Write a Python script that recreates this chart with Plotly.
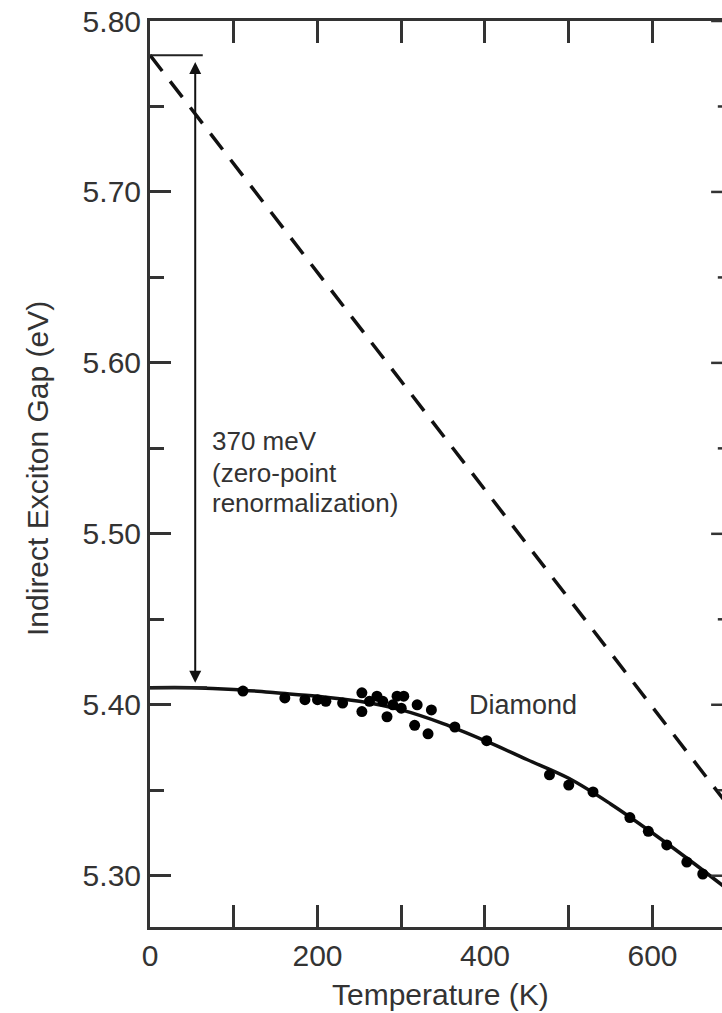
import plotly.graph_objects as go

# ---------------- data ----------------
# measured indirect exciton gap of diamond (K, eV)
meas_T = [111, 161, 185, 200, 210, 230, 253, 253, 262, 271, 278, 283, 290, 295, 300,
          303, 316, 319, 332, 336, 364, 402, 477, 500, 529, 573, 595, 617, 641, 660]
meas_E = [5.408, 5.404, 5.403, 5.403, 5.402, 5.401, 5.407, 5.396, 5.402, 5.405, 5.402,
          5.393, 5.400, 5.405, 5.398, 5.405, 5.388, 5.400, 5.383, 5.397, 5.387, 5.379,
          5.359, 5.353, 5.349, 5.334, 5.326, 5.318, 5.308, 5.301]

# fitted curve
fit_T = [0, 50, 100, 150, 200, 250, 300, 350, 400, 450, 500, 550, 600, 650, 700]
fit_E = [5.410, 5.410, 5.409, 5.407, 5.405, 5.402, 5.397, 5.389, 5.379, 5.368,
         5.357, 5.342, 5.325, 5.307, 5.288]

# high-temperature asymptote (dashed)
asym_T = [0, 700]
asym_E = [5.780, 5.335]

# zero-point renormalization marker
zpr_T = 54
zpr_top = 5.78
zpr_bottom = 5.41

x_tickvals = [0, 200, 400, 600]
y_tickvals = [5.30, 5.40, 5.50, 5.60, 5.70, 5.80]
y_ticktext = ["5.30", "5.40", "5.50", "5.60", "5.70", "5.80"]

FONT = "Liberation Sans, Arial, sans-serif"
INK = "#333333"

fig = go.Figure()

fig.add_trace(go.Scatter(x=asym_T, y=asym_E, mode="lines",
                         line=dict(color="#111111", width=3.5, dash="20px,13px"),
                         showlegend=False, hoverinfo="skip"))
fig.add_trace(go.Scatter(x=fit_T, y=fit_E, mode="lines", line_shape="spline",
                         line=dict(color="#111111", width=3.5),
                         showlegend=False, hoverinfo="skip"))
fig.add_trace(go.Scatter(x=meas_T, y=meas_E, mode="markers",
                         marker=dict(color="#000000", size=11),
                         showlegend=False, hoverinfo="skip"))

# ZPR guide lines
fig.add_shape(type="line", x0=0, x1=63, y0=zpr_top, y1=zpr_top,
              line=dict(color="#222222", width=2))
fig.add_shape(type="line", x0=0, x1=68, y0=zpr_bottom, y1=zpr_bottom,
              line=dict(color="#222222", width=3))
# double-headed arrow
fig.add_annotation(x=zpr_T, y=zpr_top - 0.004, ax=zpr_T, ay=zpr_bottom + 0.002,
                   xref="x", yref="y", axref="x", ayref="y", text="",
                   showarrow=True, arrowhead=2, arrowside="end+start",
                   arrowsize=1.2, arrowwidth=2, arrowcolor="#111111")

# right-axis ticks (the right frame itself lies beyond the crop)
for i in range(11):
    v = 5.30 + 0.05 * i
    major = (i % 2 == 0)
    fig.add_shape(type="line", x0=670 if major else 678, x1=700, y0=v, y1=v,
                  line=dict(color=INK, width=2.5))

# text annotations
note_lines = ["370 meV", "(zero-point", "renormalization)"]
note_y = [5.5544, 5.5357, 5.5181]
for t, yy in zip(note_lines, note_y):
    fig.add_annotation(x=72, y=yy, xref="x", yref="y", text=t, showarrow=False,
                       xanchor="left", yanchor="middle",
                       font=dict(family=FONT, size=26, color=INK))
fig.add_annotation(x=378, y=5.400, xref="x", yref="y", text="Diamond",
                   showarrow=False, xanchor="left", yanchor="middle",
                   font=dict(family=FONT, size=27, color=INK))

# axis titles
fig.add_annotation(x=0.507, y=-0.075, xref="paper", yref="paper",
                   text="Temperature (K)", showarrow=False,
                   xanchor="center", yanchor="middle",
                   font=dict(family=FONT, size=30, color=INK))
fig.add_annotation(x=-0.1976, y=0.5066, xref="paper", yref="paper",
                   text="Indirect Exciton Gap (eV)", showarrow=False, textangle=-90,
                   xanchor="center", yanchor="middle",
                   font=dict(family=FONT, size=30, color=INK))

fig.update_layout(
    width=722, height=1013,
    margin=dict(l=150, r=0, t=21, b=86),
    paper_bgcolor="white", plot_bgcolor="white",
    font=dict(family=FONT, size=30, color=INK),
    xaxis=dict(range=[0, 683], showgrid=False, zeroline=False,
               showline=True, linecolor=INK, linewidth=3, mirror="allticks",
               ticks="inside", ticklen=22, tickwidth=2.5, tickcolor=INK,
               tickvals=x_tickvals, tickfont=dict(size=30, color=INK),
               minor=dict(dtick=100, ticks="inside", ticklen=22, tickwidth=2.5,
                          tickcolor=INK, showgrid=False)),
    yaxis=dict(range=[5.27, 5.80], showgrid=False, zeroline=False,
               showline=True, linecolor=INK, linewidth=3,
               ticks="inside", ticklen=21, tickwidth=2.5, tickcolor=INK,
               tickvals=y_tickvals, ticktext=y_ticktext,
               tickfont=dict(size=30, color=INK),
               minor=dict(dtick=0.05, tick0=5.30, ticks="inside", ticklen=14,
                          tickwidth=2.5, tickcolor=INK, showgrid=False)),
)

fig.write_html("out.html")
